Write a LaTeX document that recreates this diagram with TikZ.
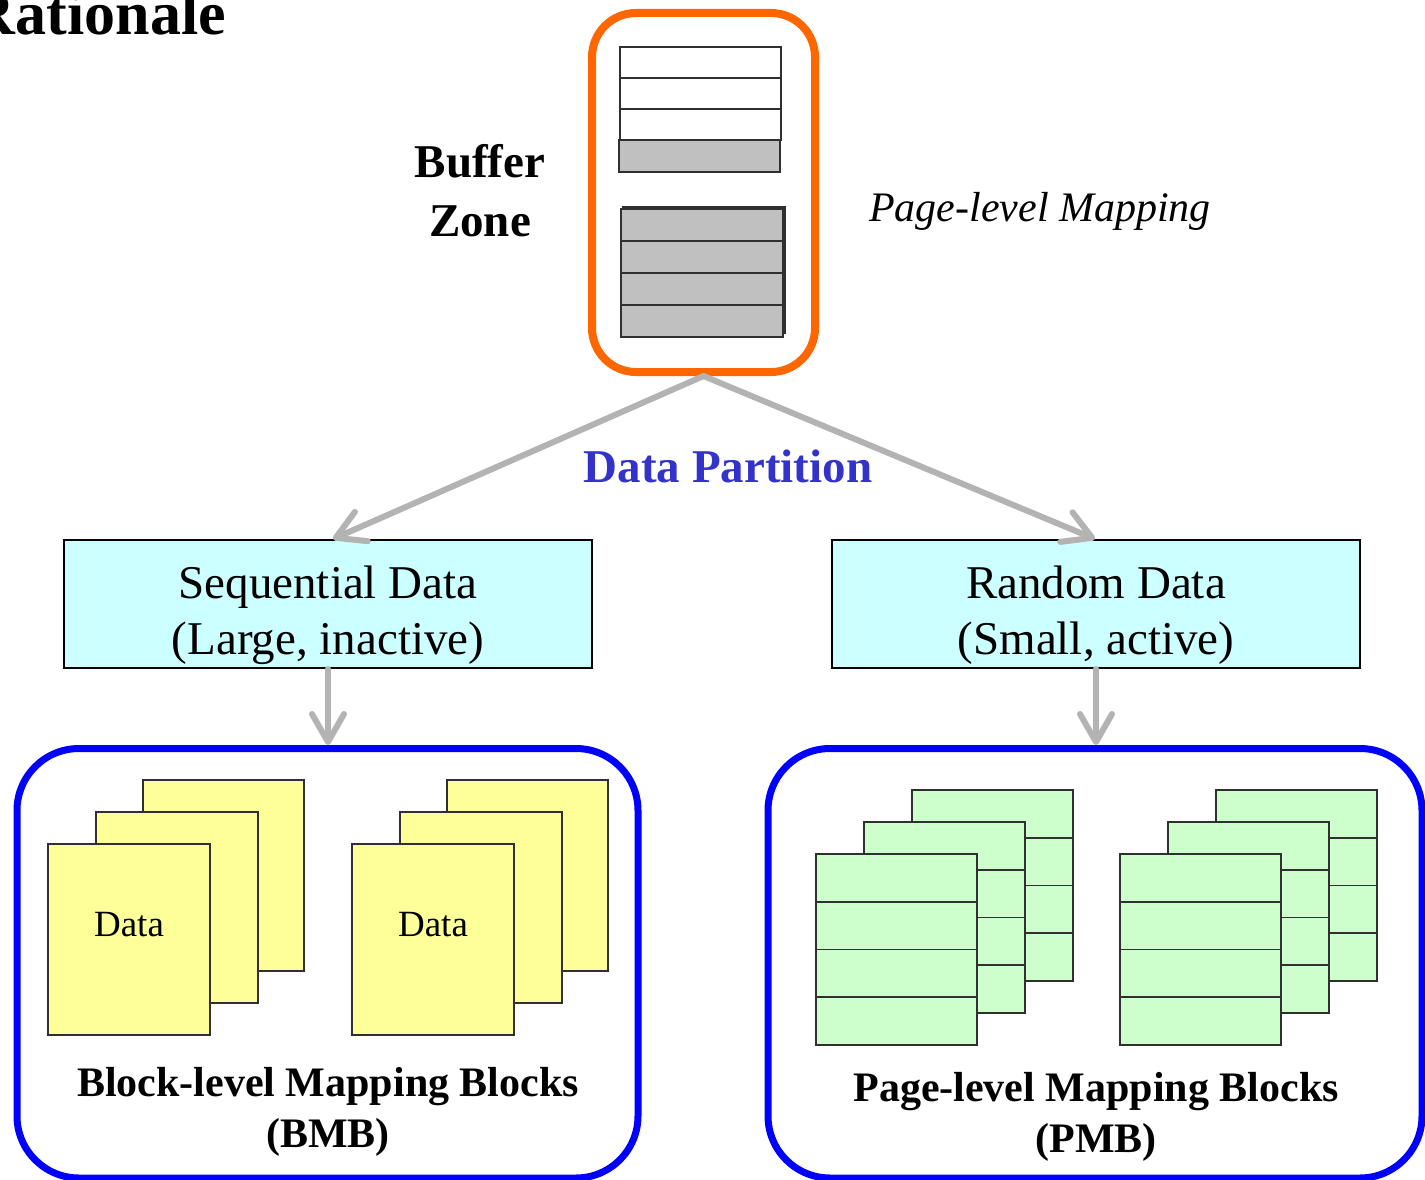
\documentclass[tikz,border=0pt]{standalone}
\usepackage{fontspec}
\setmainfont{Liberation Serif}
\usetikzlibrary{arrows.meta}
\definecolor{bzorange}{HTML}{FF6600}
\definecolor{mapblue}{HTML}{0000FF}
\definecolor{arrowgray}{HTML}{B3B3B3}
\definecolor{cellgray}{HTML}{C0C0C0}
\definecolor{cellline}{HTML}{303030}
\definecolor{seqcyan}{HTML}{CCFFFF}
\definecolor{pageyellow}{HTML}{FFFF99}
\definecolor{pagegreen}{HTML}{CCFFCC}
\definecolor{titleblue}{HTML}{3333CC}
\begin{document}
\begin{tikzpicture}[x=1pt,y=-1pt,
  flow/.style={draw=arrowgray,line width=6pt,line cap=round,
    -{Straight Barb[length=28pt,width=32pt,round]}},
  kindbox/.style={draw=black,line width=2pt,fill=seqcyan,inner sep=0pt,
    minimum width=528pt,minimum height=128pt},
  groupbox/.style={draw=mapblue,line width=7pt,rounded corners=62pt,inner sep=0pt,
    minimum height=429.5pt},
  cell/.style={draw=cellline,line width=1.6pt},
  yellowpage/.style={draw=cellline,line width=1.6pt,fill=pageyellow},
  greenpage/.style={draw=cellline,line width=1.6pt,fill=pagegreen},
  txt/.style={anchor=base,inner sep=0pt,font=\fontsize{47}{56}\selectfont},
  btxt/.style={anchor=base,inner sep=0pt,font=\fontsize{47}{56}\selectfont\bfseries},
  captxt/.style={anchor=base,inner sep=0pt,font=\fontsize{42}{50}\selectfont\bfseries},
]
\useasboundingbox (0,0) rectangle (1425,1180);
\clip (0,0) rectangle (1425,1180);

% heading
\node[anchor=base east,inner sep=0pt,font=\fontsize{62}{70}\selectfont\bfseries] (title) at (226,35) {Rationale};

% buffer zone
\node[draw=bzorange,line width=8pt,rounded corners=44pt,inner sep=0pt,
  minimum width=223pt,minimum height=359pt] (buf) at (703.5,192.5) {};
\draw[cell,fill=white] (620,47) rectangle (781,78);
\draw[cell,fill=white] (620,78) rectangle (781,109);
\draw[cell,fill=white] (620,109) rectangle (781,140);
\draw[cell,fill=cellgray] (619,140) rectangle (780,172);
\draw[cell,fill=cellgray] (623,207) rectangle (785,333);
\foreach \y in {209,241,273,305}
  \draw[cell,fill=cellgray] (621,\y) rectangle (783,\y+32);
\node[btxt] (bz1) at (480,178) {Buffer};
\node[btxt] (bz2) at (480,236) {Zone};
\node[anchor=base,inner sep=0pt,font=\fontsize{42}{50}\selectfont\itshape] (plm) at (1040,222) {Page-level Mapping};

% data classes
\node[kindbox] (seq) at (328,604) {};
\node[txt] (seq1) at (328,598) {Sequential Data};
\node[txt] (seq2) at (328,654) {(Large, inactive)};
\node[kindbox] (rnd) at (1096,604) {};
\node[txt] (rnd1) at (1096,598) {Random Data};
\node[txt] (rnd2) at (1096,654) {(Small, active)};

\node[btxt,text=titleblue] (part) at (728,482) {Data Partition};

% mapping block groups
\node[groupbox,minimum width=621pt] (bmb) at (327.5,963.25) {};
\node[groupbox,minimum width=654pt] (pmb) at (1095,963.25) {};

% connectors
\draw[flow] (buf.south) -- ([xshift=5pt]seq.north);
\draw[flow] (buf.south) -- ([xshift=-1pt]rnd.north);
\draw[flow] (seq.south) -- (seq.south |- bmb.north);
\draw[flow] (rnd.south) -- (rnd.south |- pmb.north);

% block-level pages
\foreach \gx in {0,304} {
  \draw[yellowpage] (143+\gx,780) rectangle (304+\gx,971);
  \draw[yellowpage] (96+\gx,812) rectangle (258+\gx,1003);
  \draw[yellowpage] (48+\gx,844) rectangle (210+\gx,1035);
}
\node[anchor=base,inner sep=0pt,font=\fontsize{37}{44}\selectfont] (d1) at (129,936) {Data};
\node[anchor=base,inner sep=0pt,font=\fontsize{37}{44}\selectfont] (d2) at (433,936) {Data};
\node[captxt] (bmb1) at (328,1096) {Block-level Mapping Blocks};
\node[captxt] (bmb2) at (328,1147) {(BMB)};

% page-level pages
\foreach \gx in {0,304} {
  \foreach \px/\py in {96/-64,48/-32,0/0} {
    \foreach \r in {0,1,2,3}
      \draw[greenpage] (816+\gx+\px,854+\py+\r*47.75) rectangle (977+\gx+\px,854+\py+\r*47.75+47.75);
  }
}
\node[captxt] (pmb1) at (1096,1101) {Page-level Mapping Blocks};
\node[captxt] (pmb2) at (1096,1152) {(PMB)};
\end{tikzpicture}
\end{document}
